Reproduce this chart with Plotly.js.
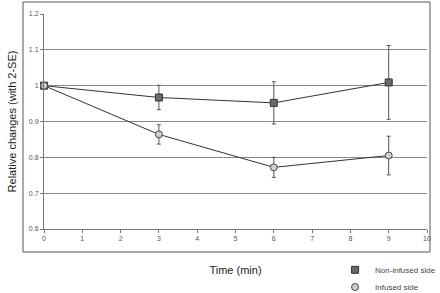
<!DOCTYPE html>
<html><head><meta charset="utf-8">
<script src="https://cdn.plot.ly/plotly-3.0.1.min.js"></script>
<style>html,body{margin:0;padding:0;background:#fff}#c{width:440px;height:293px}</style>
</head><body><div id="c"></div>
<script>
const timeMin = [0, 3, 6, 9];
const nonInfused = [1.0, 0.967, 0.952, 1.009];
const nonInfusedErr = [0, 0.034, 0.059, 0.103];
const infused = [1.0, 0.864, 0.772, 0.805];
const infusedErr = [0, 0.027, 0.028, 0.054];
const xTicks = [0,1,2,3,4,5,6,7,8,9,10];
const yTicks = [0.6,0.7,0.8,0.9,1,1.1,1.2];
const yTickText = ['0.6','0.7','0.8','0.9','1','1.1','1.2'];

const sqMarker = {symbol:'square', size:7, color:'#6a6a6a', line:{color:'#333', width:1}};
const ciMarker = {symbol:'circle', size:7, color:'#d0d0d0', line:{color:'#444', width:1}};
const errStyle = v => ({type:'data', array:v, visible:true, color:'#555', thickness:1, width:2});

const traces = [
  {x: timeMin, y: nonInfused, mode:'lines+markers', line:{color:'#333', width:1}, marker:sqMarker,
   error_y: errStyle(nonInfusedErr), showlegend:false, cliponaxis:false},
  {x: timeMin, y: infused, mode:'lines+markers', line:{color:'#333', width:1}, marker:ciMarker,
   error_y: errStyle(infusedErr), showlegend:false, cliponaxis:false},
  {x:[null], y:[null], mode:'markers', marker:sqMarker, name:'Non-infused side', legend:'legend'},
  {x:[null], y:[null], mode:'markers', marker:ciMarker, name:'Infused side', legend:'legend2'}
];

const legStyle = (y) => ({x:0.76, y:y, xanchor:'left', yanchor:'middle', font:{size:8, color:'#444'},
  bgcolor:'rgba(0,0,0,0)', itemwidth:30, tracegroupgap:0});

const layout = {
  width:440, height:293,
  margin:{l:44, r:13, t:14, b:64, autoexpand:false},
  paper_bgcolor:'#fff', plot_bgcolor:'#fff',
  font:{family:'Liberation Sans, Arial, sans-serif', color:'#333'},
  showlegend:true,
  legend: legStyle(-0.19),
  legend2: legStyle(-0.27),
  xaxis:{range:[0,10], tickvals:xTicks, ticks:'outside', ticklen:3, tickcolor:'#777',
         showline:true, linecolor:'#777', linewidth:1, showgrid:false, zeroline:false,
         tickfont:{size:7, color:'#555'}, fixedrange:true, automargin:false,
         title:{text:'Time (min)', font:{size:11, color:'#222'}, standoff:24}},
  yaxis:{range:[0.6,1.2], tickvals:yTicks, ticktext:yTickText, ticks:'outside', ticklen:3, tickcolor:'#777',
         showline:true, linecolor:'#777', linewidth:1, showgrid:true, gridcolor:'#8a8a8a', gridwidth:1,
         zeroline:false, tickfont:{size:7, color:'#555'}, fixedrange:true, automargin:false,
         title:{text:'Relative changes (with 2-SE)', font:{size:11, color:'#222'}, standoff:10}},
  shapes:[{type:'rect', xref:'paper', yref:'paper', x0:-0.0548, x1:1.0078, y0:-0.107, y1:1.0558,
           line:{color:'#555', width:1}, fillcolor:'rgba(0,0,0,0)', layer:'below'}]
};
Plotly.newPlot('c', traces, layout, {displayModeBar:false, staticPlot:true});
</script></body></html>
